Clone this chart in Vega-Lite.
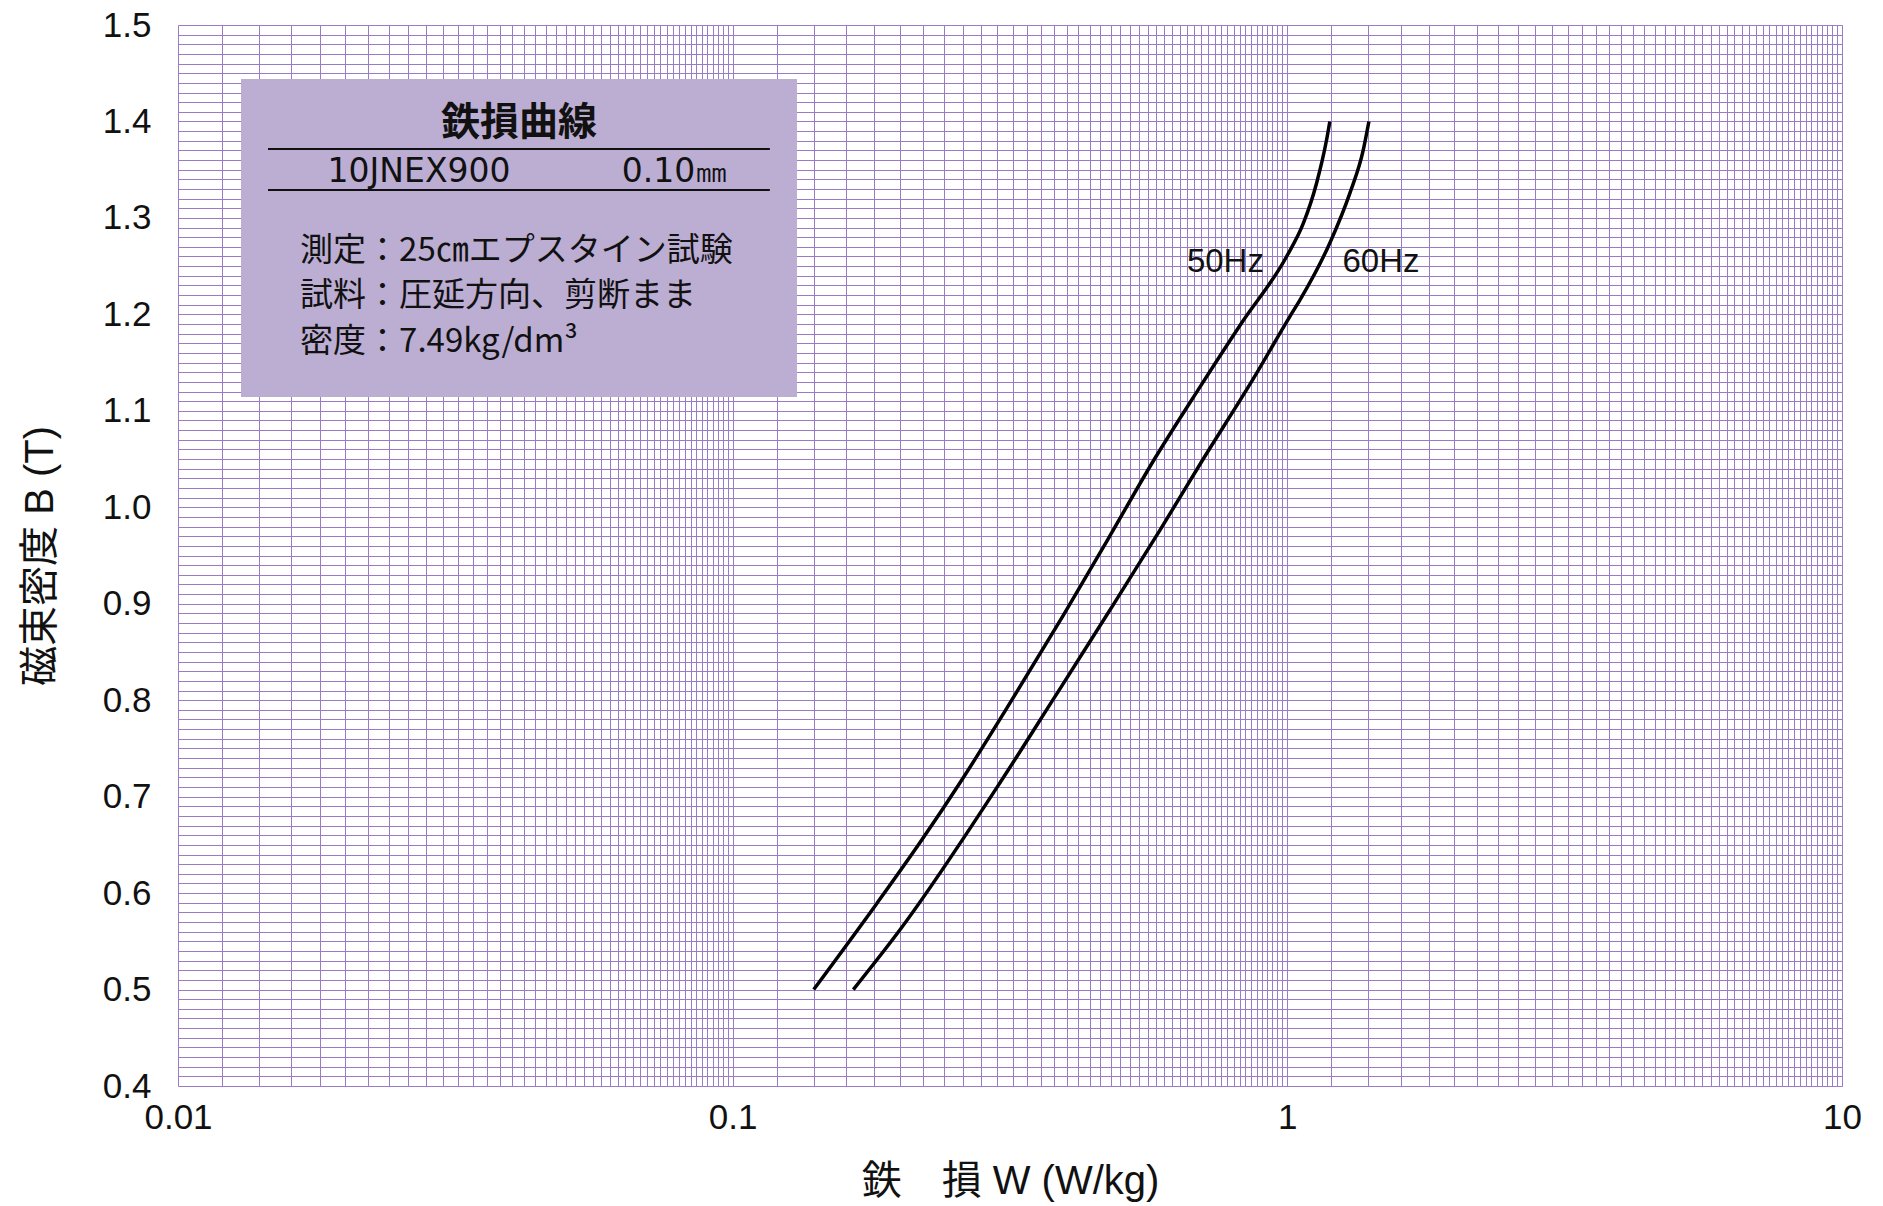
{
  "$schema": "https://vega.github.io/schema/vega-lite/v6.json",
  "width": 1664,
  "height": 1061,
  "autosize": {"type": "none"},
  "padding": {"left": 178, "top": 25, "right": 41, "bottom": 120},
  "background": "white",
  "config": {"view": {"stroke": null}},
  "datasets": {
    "curves": [
      {"series": "50Hz", "W": 0.140, "B": 0.500},
      {"series": "50Hz", "W": 0.1818, "B": 0.589},
      {"series": "50Hz", "W": 0.2192, "B": 0.655},
      {"series": "50Hz", "W": 0.2587, "B": 0.717},
      {"series": "50Hz", "W": 0.3185, "B": 0.800},
      {"series": "50Hz", "W": 0.3945, "B": 0.888},
      {"series": "50Hz", "W": 0.474, "B": 0.966},
      {"series": "50Hz", "W": 0.5747, "B": 1.049},
      {"series": "50Hz", "W": 0.691, "B": 1.122},
      {"series": "50Hz", "W": 0.827, "B": 1.191},
      {"series": "50Hz", "W": 0.997, "B": 1.260},
      {"series": "50Hz", "W": 1.068, "B": 1.294},
      {"series": "50Hz", "W": 1.129, "B": 1.336},
      {"series": "50Hz", "W": 1.177, "B": 1.381},
      {"series": "50Hz", "W": 1.193, "B": 1.400},
      {"series": "60Hz", "W": 0.165, "B": 0.500},
      {"series": "60Hz", "W": 0.2003, "B": 0.562},
      {"series": "60Hz", "W": 0.3054, "B": 0.717},
      {"series": "60Hz", "W": 0.3776, "B": 0.800},
      {"series": "60Hz", "W": 0.4723, "B": 0.888},
      {"series": "60Hz", "W": 0.589, "B": 0.976},
      {"series": "60Hz", "W": 0.7035, "B": 1.049},
      {"series": "60Hz", "W": 0.8657, "B": 1.132},
      {"series": "60Hz", "W": 1.011, "B": 1.198},
      {"series": "60Hz", "W": 1.054, "B": 1.215},
      {"series": "60Hz", "W": 1.193, "B": 1.274},
      {"series": "60Hz", "W": 1.297, "B": 1.326},
      {"series": "60Hz", "W": 1.370, "B": 1.370},
      {"series": "60Hz", "W": 1.403, "B": 1.400}
    ],
    "box": [{"W": 0.01299, "W2": 0.1306, "B": 1.444, "B2": 1.1143}],
    "rules": [
      {"W": 0.01453, "W2": 0.1167, "B": 1.3714},
      {"W": 0.01453, "W2": 0.1167, "B": 1.3289}
    ],
    "boxTitle": [{"W": 0.0412, "B": 1.3985, "label": "鉄損曲線"}],
    "boxSpec": [
      {"W": 0.0272, "B": 1.3476, "label": "10JNEX900"},
      {"W": 0.0787, "B": 1.3476, "label": "0.10㎜"}
    ],
    "boxBody": [
      {"W": 0.0166, "B": 1.2653, "label": "測定：25㎝エプスタイン試験"},
      {"W": 0.0166, "B": 1.2186, "label": "試料：圧延方向、剪断まま"},
      {"W": 0.0166, "B": 1.1709, "label": "密度：7.49kg/dm³"}
    ],
    "curveLabels": [
      {"W": 0.7733, "B": 1.2543, "label": "50Hz"},
      {"W": 1.475, "B": 1.2543, "label": "60Hz"}
    ]
  },
  "encoding": {
    "x": {
      "field": "W",
      "type": "quantitative",
      "scale": {"type": "log", "domain": [0.01, 10], "nice": false},
      "axis": {
        "title": "鉄　損 W (W/kg)",
        "titleFont": "Liberation Sans, Noto Sans CJK JP, sans-serif",
        "titleFontSize": 40,
        "titleFontWeight": "normal",
        "titleColor": "#111111",
        "titlePadding": 26,
        "values": [0.01,0.012,0.014,0.016,0.018,0.02,0.022,0.024,0.026,0.028,0.03,0.032,0.034,0.036,0.038,0.04,0.042,0.044,0.046,0.048,0.05,0.052,0.054,0.056,0.058,0.06,0.062,0.064,0.066,0.068,0.07,0.072,0.074,0.076,0.078,0.08,0.082,0.084,0.086,0.088,0.09,0.092,0.094,0.096,0.098,
                   0.1,0.12,0.14,0.16,0.18,0.2,0.22,0.24,0.26,0.28,0.3,0.32,0.34,0.36,0.38,0.4,0.42,0.44,0.46,0.48,0.5,0.52,0.54,0.56,0.58,0.6,0.62,0.64,0.66,0.68,0.7,0.72,0.74,0.76,0.78,0.8,0.82,0.84,0.86,0.88,0.9,0.92,0.94,0.96,0.98,
                   1,1.2,1.4,1.6,1.8,2,2.2,2.4,2.6,2.8,3,3.2,3.4,3.6,3.8,4,4.2,4.4,4.6,4.8,5,5.2,5.4,5.6,5.8,6,6.2,6.4,6.6,6.8,7,7.2,7.4,7.6,7.8,8,8.2,8.4,8.6,8.8,9,9.2,9.4,9.6,9.8,10],
        "labelExpr": "datum.value == 0.01 ? '0.01' : datum.value == 0.1 ? '0.1' : datum.value == 1 ? '1' : datum.value == 10 ? '10' : ''",
        "labelFont": "Liberation Sans",
        "labelFontSize": 35,
        "labelColor": "#111111",
        "labelPadding": 14,
        "labelOverlap": false,
        "labelFlush": false,
        "labelBound": false,
        "ticks": false,
        "domain": false,
        "grid": true,
        "gridColor": "#9a7cc6",
        "gridWidth": 1,
        "gridOpacity": 1
      }
    },
    "y": {
      "field": "B",
      "type": "quantitative",
      "scale": {"domain": [0.4, 1.5], "nice": false, "zero": false},
      "axis": {
        "title": "磁束密度 B (T)",
        "titleFont": "Liberation Sans, Noto Sans CJK JP, sans-serif",
        "titleFontSize": 40,
        "titleFontWeight": "normal",
        "titleColor": "#111111",
        "titlePadding": 42,
        "values": [0.4,0.41,0.42,0.43,0.44,0.45,0.46,0.47,0.48,0.49,0.5,0.51,0.52,0.53,0.54,0.55,0.56,0.57,0.58,0.59,0.6,0.61,0.62,0.63,0.64,0.65,0.66,0.67,0.68,0.69,0.7,0.71,0.72,0.73,0.74,0.75,0.76,0.77,0.78,0.79,0.8,0.81,0.82,0.83,0.84,0.85,0.86,0.87,0.88,0.89,0.9,0.91,0.92,0.93,0.94,0.95,0.96,0.97,0.98,0.99,1.0,1.01,1.02,1.03,1.04,1.05,1.06,1.07,1.08,1.09,1.1,1.11,1.12,1.13,1.14,1.15,1.16,1.17,1.18,1.19,1.2,1.21,1.22,1.23,1.24,1.25,1.26,1.27,1.28,1.29,1.3,1.31,1.32,1.33,1.34,1.35,1.36,1.37,1.38,1.39,1.4,1.41,1.42,1.43,1.44,1.45,1.46,1.47,1.48,1.49,1.5],
        "labelExpr": "round(datum.value * 100) % 10 == 0 ? format(datum.value, '.1f') : ''",
        "labelFont": "Liberation Sans",
        "labelFontSize": 35,
        "labelColor": "#111111",
        "labelPadding": 27,
        "labelOverlap": false,
        "labelFlush": false,
        "labelBound": false,
        "ticks": false,
        "domain": false,
        "grid": true,
        "gridColor": "#9a7cc6",
        "gridWidth": 1,
        "gridOpacity": 1
      }
    }
  },
  "layer": [
    {
      "data": {"name": "box"},
      "mark": {"type": "rect", "color": "#bcadd3", "opacity": 1},
      "encoding": {"x2": {"field": "W2"}, "y2": {"field": "B2"}}
    },
    {
      "data": {"name": "rules"},
      "mark": {"type": "rule", "color": "#111111", "strokeWidth": 2},
      "encoding": {"x2": {"field": "W2"}}
    },
    {
      "data": {"name": "boxTitle"},
      "mark": {"type": "text", "font": "Noto Sans CJK JP", "fontSize": 39, "fontWeight": "bold", "color": "#111111", "align": "center", "baseline": "middle"},
      "encoding": {"text": {"field": "label"}}
    },
    {
      "data": {"name": "boxSpec"},
      "mark": {"type": "text", "font": "DejaVu Sans", "fontSize": 33, "color": "#111111", "align": "center", "baseline": "middle"},
      "encoding": {"text": {"field": "label"}}
    },
    {
      "data": {"name": "boxBody"},
      "mark": {"type": "text", "font": "Noto Sans CJK JP", "fontSize": 33, "color": "#111111", "align": "left", "baseline": "middle"},
      "encoding": {"text": {"field": "label"}}
    },
    {
      "data": {"name": "curves"},
      "mark": {"type": "line", "color": "#000000", "strokeWidth": 3.5, "interpolate": "monotone", "strokeCap": "butt"},
      "encoding": {"detail": {"field": "series"}, "order": {"field": "B", "type": "quantitative"}}
    },
    {
      "data": {"name": "curveLabels"},
      "mark": {"type": "text", "font": "Liberation Sans", "fontSize": 33, "color": "#111111", "align": "center", "baseline": "middle"},
      "encoding": {"text": {"field": "label"}}
    }
  ]
}
